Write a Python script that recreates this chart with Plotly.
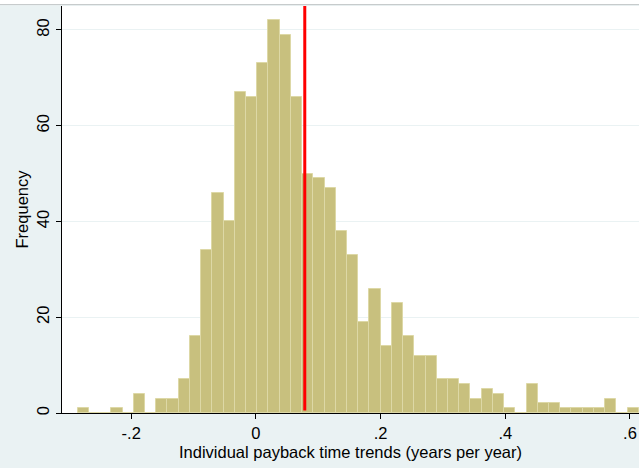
import plotly.graph_objects as go

# Histogram data (50 bins)
bin_start = -0.2858
bin_width = 0.018
counts = [1, 0, 0, 1, 0, 4, 0, 3, 3, 7,
          16, 34, 46, 40, 67, 66, 73, 82, 79, 66,
          50, 49, 47, 38, 33, 19, 26, 14, 23, 16,
          12, 12, 7, 7, 6, 3, 5, 4, 1, 0,
          6, 2, 2, 1, 1, 1, 1, 3, 0, 1]
mean_line = 0.0784

x_tickvals = [-0.2, 0, 0.2, 0.4, 0.6]
x_ticktext = ["-.2", "0", ".2", ".4", ".6"]
y_tickvals = [0, 20, 40, 60, 80]
y_ticktext = ["0", "20", "40", "60", "80"]

centers = [bin_start + (i + 0.5) * bin_width for i in range(len(counts))]

BG = "#EAF2F3"
FONT = "Arial"

fig = go.Figure()
fig.add_trace(go.Bar(
    x=centers, y=counts, width=bin_width,
    marker=dict(color="#C8C07E", line=dict(color="#DDD8A6", width=1)),
    hoverinfo="x+y",
))

fig.add_shape(type="line", xref="x", yref="y", x0=mean_line, x1=mean_line,
              y0=0.5, y1=85, line=dict(color="#FF0000", width=3))

# top strip of the screenshot
fig.add_shape(type="rect", xref="paper", yref="paper",
              x0=-0.2, x1=1.05, y0=1.0025, y1=1.02,
              fillcolor="white", line=dict(width=0), layer="above")
fig.add_shape(type="line", xref="paper", yref="paper",
              x0=-0.2, x1=1.05, y0=1.0035, y1=1.0035,
              line=dict(color="#C4C8C9", width=1), layer="above")

fig.update_layout(
    width=639, height=468,
    margin=dict(l=62, r=0, t=6, b=55),
    paper_bgcolor=BG, plot_bgcolor="white",
    font=dict(family=FONT, size=16.5, color="black"),
    showlegend=False,
    bargap=0,
)
fig.update_xaxes(
    range=[-0.311, 0.6145],
    tickvals=x_tickvals, ticktext=x_ticktext,
    ticks="outside", ticklen=5, tickcolor="black", tickwidth=1,
    showline=True, linecolor="black", linewidth=1,
    showgrid=False, zeroline=False,
    title=dict(text="Individual payback time trends (years per year)",
               standoff=5, font=dict(size=16.5)),
    automargin=False,
)
fig.update_yaxes(
    range=[0, 85],
    tickvals=y_tickvals, ticktext=y_ticktext, tickangle=-90,
    ticks="outside", ticklen=5, tickcolor="black", tickwidth=1,
    showline=True, linecolor="black", linewidth=1,
    showgrid=True, gridcolor="#EAF2F3", gridwidth=1,
    zeroline=False,
    title=dict(text="Frequency", standoff=1, font=dict(size=16.5)),
    automargin=False,
)

fig.write_html("out.html", config={"displayModeBar": False},
               post_script="document.body.style.margin='0';")
